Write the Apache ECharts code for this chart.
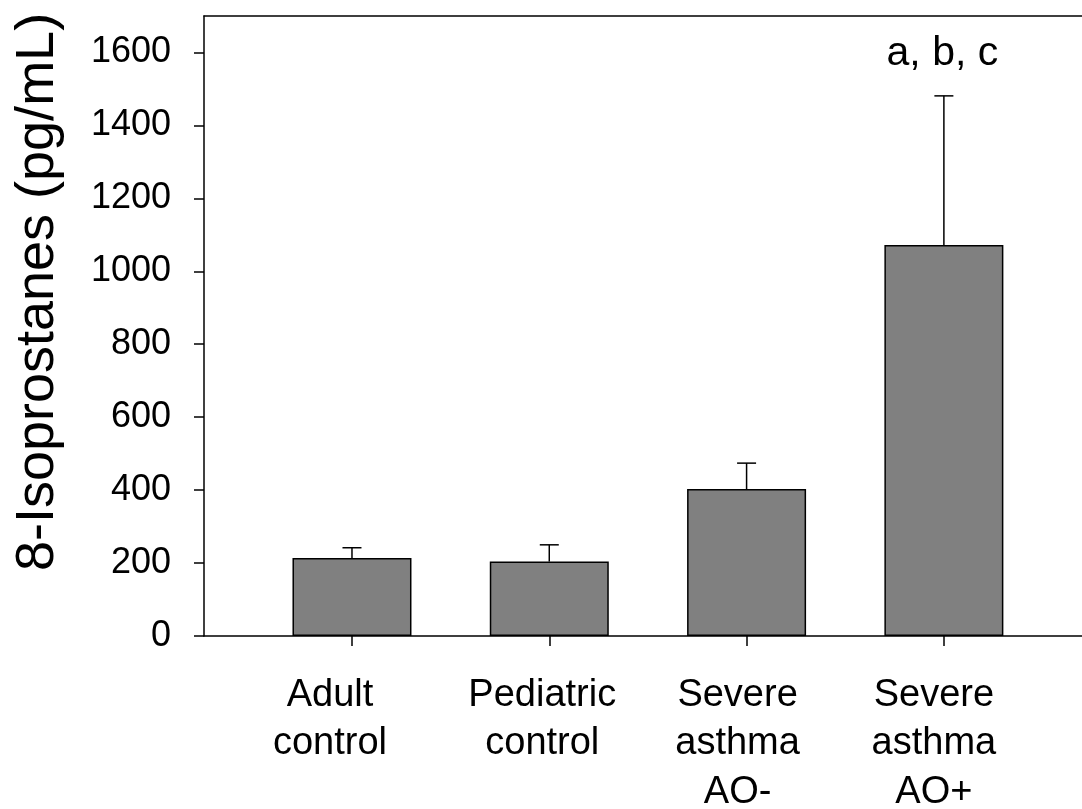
<!DOCTYPE html>
<html>
<head>
<meta charset="utf-8">
<script src="https://cdn.jsdelivr.net/npm/echarts@6/dist/echarts.min.js"></script>
<style>
html,body{margin:0;padding:0;background:#fff;overflow:hidden;}
#chart{width:1082px;height:809px;}
</style>
</head>
<body>
<div id="chart"></div>
<script>
// ---- data ----
var categories = ['Adult\ncontrol', 'Pediatric\ncontrol', 'Severe\nasthma\nAO-', 'Severe\nasthma\nAO+'];
var positions = [1, 2, 3, 4];
var means = [214, 204, 403, 1072];
var errors = [28, 46, 71, 409];
var annotations = ['', '', '', 'a, b, c'];
var yTicks = [0, 200, 400, 600, 800, 1000, 1200, 1400, 1600];
var yTitle = '8-Isoprostanes (pg/mL)';

// ---- layout / style ----
var FONT = '"Liberation Sans", Arial, Helvetica, sans-serif';
var LABEL_FS = 38, LABEL_LH = 48.5;
// leftward nudge (px) of each category label as seen in the reference
var labelNudge = [22, 7, 9, 10];
var rich = {};
labelNudge.forEach(function (n, i) {
  rich['c' + i] = {padding: [0, 2 * n, 0, 0], fontSize: LABEL_FS, lineHeight: LABEL_LH, fontFamily: FONT, color: '#000'};
});

var barData = positions.map(function (p, i) { return [p, means[i]]; });
var errData = positions.map(function (p, i) { return [p, means[i], errors[i], i]; });

var chart = echarts.init(document.getElementById('chart'), null, {renderer: 'canvas', width: 1082, height: 809});
chart.setOption({
  animation: false,
  backgroundColor: '#ffffff',
  grid: {left: 204, right: 0, top: 16, bottom: 173, containLabel: false, outerBoundsMode: 'none'},
  graphic: [{
    type: 'text',
    x: 38,
    y: 292,
    rotation: Math.PI / 2,
    style: {
      text: yTitle,
      font: '54px ' + FONT,
      fill: '#000',
      textAlign: 'center',
      textVerticalAlign: 'middle'
    }
  }],
  xAxis: [{
    type: 'value',
    min: 0.25,
    max: 4.7,
    position: 'bottom',
    splitLine: {show: false},
    axisLine: {show: true, onZero: false, lineStyle: {color: '#000', width: 1.5}},
    axisTick: {show: true, inside: false, length: 10, customValues: positions, lineStyle: {color: '#000', width: 1.5}},
    axisLabel: {
      show: true,
      customValues: positions,
      margin: 35,
      fontFamily: FONT,
      fontSize: LABEL_FS,
      lineHeight: LABEL_LH,
      color: '#000',
      align: 'center',
      rich: rich,
      formatter: function (v) {
        var idx = positions.indexOf(Math.round(v));
        if (idx < 0) return '';
        return categories[idx].split('\n').map(function (s) {
          return '{c' + idx + '|' + s + '}';
        }).join('\n');
      }
    }
  }, {
    type: 'value',
    min: 0.25,
    max: 4.7,
    position: 'top',
    splitLine: {show: false},
    axisLine: {show: true, onZero: false, lineStyle: {color: '#000', width: 1.5}},
    axisTick: {show: false},
    axisLabel: {show: false}
  }],
  yAxis: {
    type: 'value',
    min: 0,
    max: 1700,
    splitLine: {show: false},
    axisLine: {show: true, onZero: false, lineStyle: {color: '#000', width: 1.5}},
    axisTick: {show: true, inside: false, length: 10, customValues: yTicks, lineStyle: {color: '#000', width: 1.5}},
    axisLabel: {
      show: true,
      customValues: yTicks,
      margin: 33,
      fontFamily: FONT,
      fontSize: 36,
      color: '#000',
      formatter: function (v) { return String(v); }
    }
  },
  series: [{
    type: 'bar',
    xAxisIndex: 0,
    data: barData,
    barWidth: 119,
    itemStyle: {color: '#808080', borderColor: '#000', borderWidth: 1.5},
    z: 2
  }, {
    type: 'custom',
    xAxisIndex: 0,
    data: errData,
    z: 3,
    renderItem: function (params, api) {
      var x = api.value(0), m = api.value(1), e = api.value(2), idx = api.value(3);
      var p0 = api.coord([x, m]);
      var p1 = api.coord([x, m + e]);
      var hw = 9.5;
      var children = [
        {type: 'line', shape: {x1: p0[0], y1: p0[1], x2: p1[0], y2: p1[1]}, style: {stroke: '#000', lineWidth: 1.5}},
        {type: 'line', shape: {x1: p1[0] - hw, y1: p1[1], x2: p1[0] + hw, y2: p1[1]}, style: {stroke: '#000', lineWidth: 1.5}}
      ];
      var ann = annotations[idx];
      if (ann) {
        children.push({
          type: 'text',
          x: p1[0] - 1.5,
          y: p1[1] - 22,
          style: {text: ann, font: '41px ' + FONT, fill: '#000', textAlign: 'center', textVerticalAlign: 'bottom'}
        });
      }
      return {type: 'group', children: children};
    }
  }]
});
</script>
</body>
</html>
